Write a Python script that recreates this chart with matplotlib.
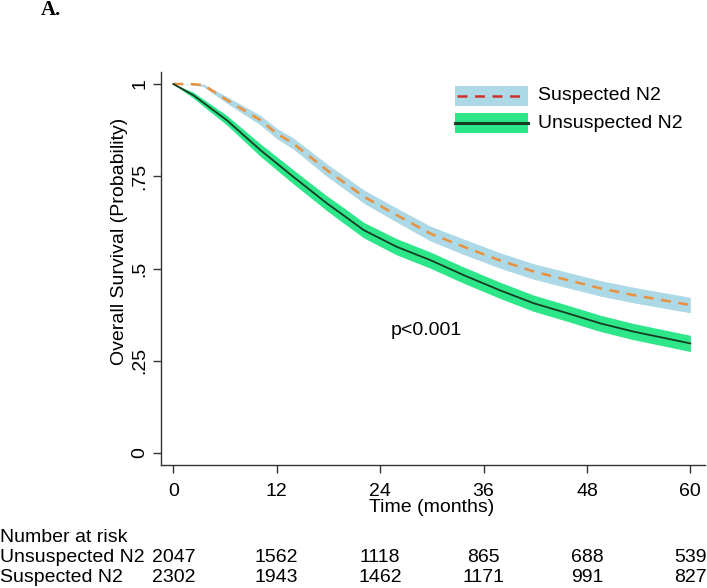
import matplotlib
matplotlib.use("Agg")
import matplotlib.pyplot as plt
import matplotlib.transforms as mtransforms
from matplotlib.patches import Rectangle
from matplotlib.lines import Line2D

plt.rcParams['font.family'] = ['Liberation Sans', 'DejaVu Sans']

# Kaplan-Meier readings (months, survival, 95% CI)
unsusp_t = [0, 2.3, 6.2, 10.1, 12, 13.9, 17.8, 19.4, 22.1, 25.9, 29.8, 33.7, 38, 41.8, 45.7, 49.6, 53.4, 60]
unsusp_s = [1.0, 0.970, 0.902, 0.821, 0.785, 0.749, 0.677, 0.650, 0.604, 0.559, 0.523, 0.482, 0.440, 0.406, 0.379, 0.351, 0.329, 0.297]
unsusp_lo = [1.0, 0.962, 0.889, 0.804, 0.767, 0.730, 0.657, 0.629, 0.583, 0.537, 0.501, 0.460, 0.418, 0.384, 0.357, 0.329, 0.307, 0.275]
unsusp_hi = [1.0, 0.978, 0.915, 0.838, 0.803, 0.768, 0.697, 0.671, 0.625, 0.581, 0.545, 0.504, 0.462, 0.428, 0.401, 0.373, 0.351, 0.319]

susp_t = [0, 2, 3.5, 6.2, 10.1, 12, 13.9, 17.8, 22.1, 25.9, 29.8, 33.7, 38, 41.8, 45.7, 49.6, 53.4, 60]
susp_s = [1.0, 1.0, 0.997, 0.957, 0.902, 0.866, 0.839, 0.767, 0.695, 0.645, 0.595, 0.559, 0.521, 0.492, 0.469, 0.446, 0.428, 0.401]
susp_lo = [1.0, 0.998, 0.993, 0.948, 0.889, 0.852, 0.824, 0.750, 0.677, 0.626, 0.575, 0.538, 0.500, 0.471, 0.448, 0.425, 0.407, 0.380]
susp_hi = [1.0, 1.0, 1.0, 0.966, 0.915, 0.880, 0.854, 0.784, 0.713, 0.664, 0.615, 0.580, 0.542, 0.513, 0.490, 0.467, 0.449, 0.422]

# number at risk table
risk_times = [0, 12, 24, 36, 48, 60]
risk_unsusp = [2047, 1562, 1118, 865, 688, 539]
risk_susp = [2302, 1943, 1462, 1171, 991, 827]

W, H = 707, 588
fig = plt.figure(figsize=(W / 100, H / 100), dpi=100)
ax = fig.add_axes([161 / W, 1 - 465 / H, (705 - 161) / W, (465 - 72) / H])

blue_band = '#add8e6'
green_band = '#2ee68a'
orange = '#e8913e'
dark = '#163d22'

ax.fill_between(susp_t, susp_lo, susp_hi, color=blue_band, lw=0, zorder=1)
ax.fill_between(unsusp_t, unsusp_lo, unsusp_hi, color=green_band, lw=0, zorder=1)
ax.plot(susp_t, susp_s, color=orange, lw=1.8, dashes=(4, 3), zorder=3)
ax.plot(unsusp_t, unsusp_s, color=dark, lw=1.3, zorder=3)

ax.set_xlim(-1.43, 61.7)
ax.set_ylim(-0.0325, 1.0325)
ax.set_xticks(risk_times)
ax.set_yticks([0, 0.25, 0.5, 0.75, 1])
ax.set_yticklabels(['0', '.25', '.5', '.75', '1'], rotation=90, va='center')
ax.tick_params(axis='both', labelsize=14, length=6, width=1, color='#333333')
ax.tick_params(axis='x', pad=7)
ax.tick_params(axis='y', pad=3)
for side in ['top', 'right']:
    ax.spines[side].set_visible(False)
for side in ['left', 'bottom']:
    ax.spines[side].set_color('#333333')
    ax.spines[side].set_linewidth(1)

ax.text(25.2, 0.333, 'p<0.001', fontsize=14, ha='left', va='center')

fig.text(119 / W, 1 - 241 / H, 'Overall Survival (Probability)', rotation=90,
         fontsize=14, ha='center', va='center')
fig.text(432 / W, 1 - 508 / H, 'Time (months)', fontsize=14, ha='center', va='center')
fig.text(41 / W, 1 - 10 / H, 'A.', fontsize=15, fontweight='bold',
         family='Liberation Serif', ha='left', va='center')

# legend drawn by hand
fx = lambda px: px / W
fy = lambda py: 1 - py / H
fig.add_artist(Rectangle((fx(455), fy(106)), 73 / W, 20 / H, facecolor=blue_band,
                         edgecolor='none', transform=fig.transFigure))
fig.add_artist(Line2D([fx(457), fx(526)], [fy(96), fy(96)], color='#d0312d', lw=1.8,
                      dashes=(4, 3), transform=fig.transFigure))
fig.add_artist(Rectangle((fx(455), fy(133)), 73 / W, 20 / H, facecolor=green_band,
                         edgecolor='none', transform=fig.transFigure))
fig.add_artist(Line2D([fx(455), fx(528)], [fy(123), fy(123)], color=dark, lw=2.2,
                      transform=fig.transFigure))
fig.text(fx(538), fy(96), 'Suspected N2', fontsize=14, ha='left', va='center')
fig.text(fx(538), fy(123), 'Unsuspected N2', fontsize=14, ha='left', va='center')

# risk table
trans = mtransforms.blended_transform_factory(ax.transData, fig.transFigure)
fig.text(0, fy(537), 'Number at risk', fontsize=14, ha='left', va='center')
fig.text(0, fy(557), 'Unsuspected N2', fontsize=14, ha='left', va='center')
fig.text(0, fy(577), 'Suspected N2', fontsize=14, ha='left', va='center')
for t, a, b in zip(risk_times, risk_unsusp, risk_susp):
    ax.text(t, fy(557), str(a), fontsize=14, ha='center', va='center', transform=trans)
    ax.text(t, fy(577), str(b), fontsize=14, ha='center', va='center', transform=trans)

fig.savefig('out.png', dpi=100)
